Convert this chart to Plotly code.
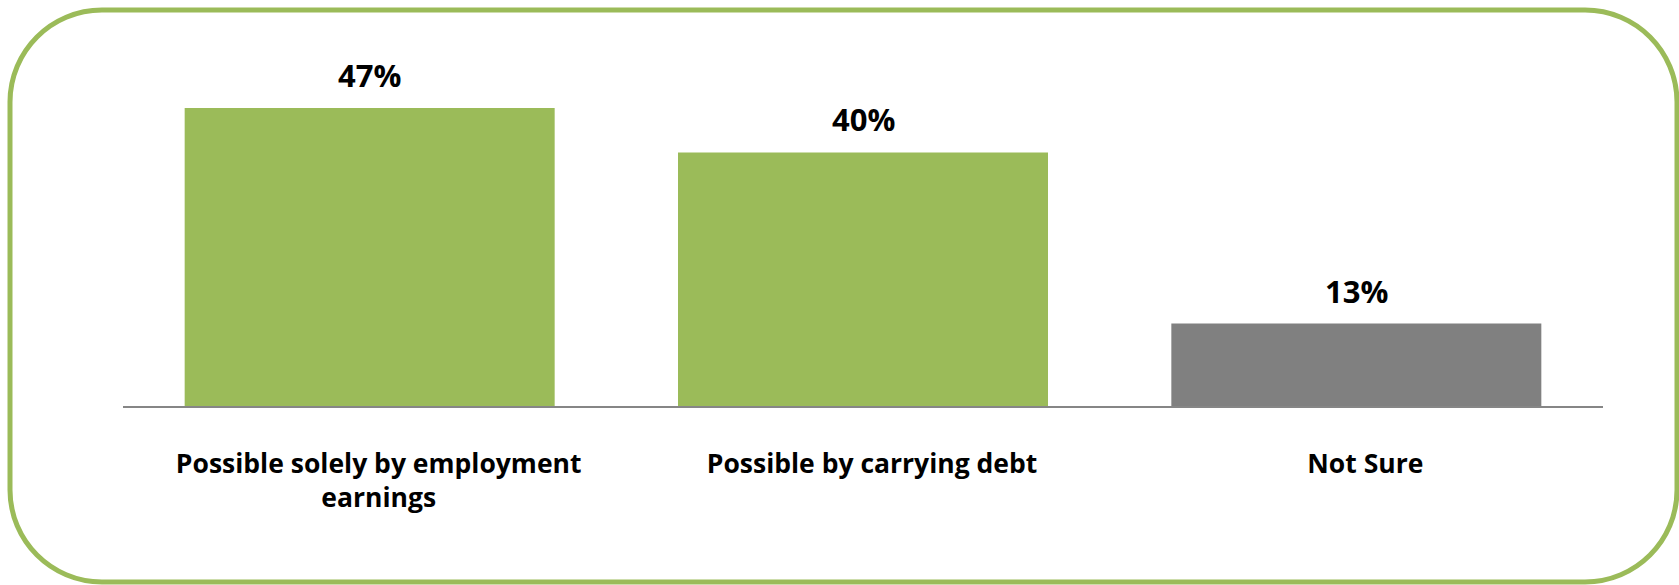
import plotly.graph_objects as go

# Survey answers and their shares (%)
categories = [
    "Possible solely by employment<br>earnings",
    "Possible by carrying debt",
    "Not Sure",
]
shares = [47, 40, 13]
value_labels = ["47%", "40%", "13%"]
bar_colors = ["#9BBB59", "#9BBB59", "#808080"]

W, H = 1679, 585
M_L, M_R, M_T, M_B = 123, 76, 20, 179
PLOT_W = W - M_L - M_R
PLOT_H = H - M_T - M_B
PX_PER_UNIT = 6.34
Y_MAX = PLOT_H / PX_PER_UNIT

FONT = "Open Sans"


def to_paper(px, py):
    return (px - M_L) / PLOT_W, (H - M_B - py) / PLOT_H


def rounded_rect(left, top, right, bottom, r):
    k = 0.5523 * r
    segs = [
        ("M", [(left + r, top)]),
        ("L", [(right - r, top)]),
        ("C", [(right - r + k, top), (right, top + r - k), (right, top + r)]),
        ("L", [(right, bottom - r)]),
        ("C", [(right, bottom - r + k), (right - r + k, bottom), (right - r, bottom)]),
        ("L", [(left + r, bottom)]),
        ("C", [(left + r - k, bottom), (left, bottom - r + k), (left, bottom - r)]),
        ("L", [(left, top + r)]),
        ("C", [(left, top + r - k), (left + r - k, top), (left + r, top)]),
    ]
    out = []
    for cmd, pts in segs:
        coords = " ".join(f"{x:.5f},{y:.5f}" for x, y in (to_paper(*p) for p in pts))
        out.append(f"{cmd} {coords}")
    return " ".join(out) + " Z"


fig = go.Figure(
    go.Bar(
        x=categories,
        y=shares,
        marker=dict(color=bar_colors, line=dict(width=0)),
        hoverinfo="skip",
    )
)

for cat, val, lab in zip(categories, shares, value_labels):
    fig.add_annotation(
        x=cat, y=val, text=lab, showarrow=False,
        yanchor="bottom", yshift=10,
        font=dict(family=FONT, size=31, color="#000000", weight="bold"),
    )

fig.add_shape(
    type="path",
    path=rounded_rect(10, 10, 1677, 582, 92),
    xref="paper", yref="paper",
    line=dict(color="#9BBB59", width=5),
    fillcolor="rgba(0,0,0,0)",
    layer="below",
)

fig.update_layout(
    width=W, height=H,
    margin=dict(l=M_L, r=M_R, t=M_T, b=M_B),
    paper_bgcolor="#FFFFFF",
    plot_bgcolor="#FFFFFF",
    bargap=0.25,
    showlegend=False,
    xaxis=dict(
        showline=True, linecolor="#868686", linewidth=2,
        showgrid=False, zeroline=False, ticks="",
        ticklabelstandoff=33, ticklabelshift=9,
        tickfont=dict(family=FONT, size=26.5, color="#000000", weight="bold"),
        fixedrange=True,
    ),
    yaxis=dict(
        range=[0, Y_MAX], visible=False, showgrid=False, zeroline=False,
        fixedrange=True,
    ),
)

fig.write_html("out.html", config={"displayModeBar": False})
